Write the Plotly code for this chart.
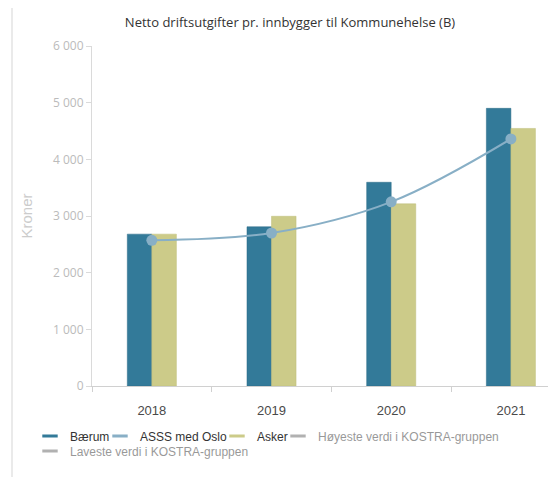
import plotly.graph_objects as go

years = ["2018", "2019", "2020", "2021"]
baerum = [2680, 2810, 3595, 4900]
asss = [2570, 2700, 3250, 4360]
asker = [2680, 2995, 3215, 4545]
y_ticks = [0, 1000, 2000, 3000, 4000, 5000, 6000]
y_tick_labels = ["0", "1 000", "2 000", "3 000", "4 000", "5 000", "6 000"]

c_baerum = "#337a99"
c_asss = "#88afc6"
c_asker = "#cccb89"
c_gray = "#666666"

OFF = 8  # page body margin
W, H = 559 - OFF, 477 - OFF
L, R, T = 92 - OFF, 11, 46 - OFF
B = H - (386 - OFF)
pw = W - L - R
ph = H - T - B


def px_x(px):
    return (px - OFF - L) / pw


def px_y(py):
    return (T + ph - (py - OFF)) / ph


fig = go.Figure()
fig.add_trace(go.Bar(x=years, y=baerum, name="Bærum", marker_color=c_baerum,
                     marker_line=dict(color="#2a6a87", width=0.5), showlegend=False))
fig.add_trace(go.Bar(x=years, y=asker, name="Asker", marker_color=c_asker,
                     marker_line=dict(color="#bdbc79", width=0.5), showlegend=False))
fig.add_trace(go.Scatter(x=years, y=asss, name="ASSS med Oslo", mode="lines+markers",
                         line=dict(color=c_asss, width=2, shape="spline"),
                         marker=dict(size=11, color=c_asss), showlegend=False))

# legend entries: (name, colour, visibility, legend id, text-start px, row y px)
legend_items = [
    ("Bærum", c_baerum, True, "legend", 70, 436),
    ("ASSS med Oslo", c_asss, True, "legend2", 140, 436),
    ("Asker", c_asker, True, "legend3", 257, 436),
    ("Høyeste verdi i KOSTRA-gruppen", c_gray, "legendonly", "legend4", 318, 436),
    ("Laveste verdi i KOSTRA-gruppen", c_gray, "legendonly", "legend5", 70, 451),
]
legend_layout = {}
for name, col, vis, lid, tx, ty in legend_items:
    fig.add_trace(go.Scatter(x=[None], y=[None], mode="markers", name=name,
                             marker=dict(symbol="line-ew", size=11, color=col,
                                         line=dict(color=col, width=3)),
                             visible=vis, legend=lid))
    legend_layout[lid] = dict(
        orientation="h", x=px_x(tx - 40), xanchor="left",
        y=px_y(ty), yanchor="middle", itemwidth=30,
        font=dict(family="Liberation Sans, Arial", size=12, color="#333333"),
        bgcolor="rgba(0,0,0,0)", borderwidth=0)

fig.update_layout(
    width=W, height=H,
    margin=dict(l=L, r=R, t=T, b=B, autoexpand=False),
    paper_bgcolor="white", plot_bgcolor="white",
    barmode="group", bargap=0.59, bargroupgap=0,
    title=dict(text="Netto driftsutgifter pr. innbygger til Kommunehelse (B)",
               x=(290 - OFF) / W, xanchor="center", y=1 - (22 - OFF) / H, yanchor="middle",
               font=dict(family="Open Sans", size=13, color="#333333")),
    font=dict(family="Liberation Sans, Arial", color="#333333"),
    xaxis=dict(type="category", range=[-0.5, 3.31], showline=True, linecolor="#d0d0d0",
               linewidth=1, ticks="outside", tickson="boundaries", ticklen=5,
               tickcolor="#d0d0d0", showgrid=False, ticklabelstandoff=12,
               tickfont=dict(family="Liberation Sans, Arial", size=13, color="#4a4a4a"),
               fixedrange=True),
    yaxis=dict(range=[0, 6000], tickvals=y_ticks, ticktext=y_tick_labels,
               showline=True, linecolor="#dadada", linewidth=1, ticks="outside",
               ticklen=5, tickcolor="#dadada", showgrid=False, zeroline=False,
               tickfont=dict(family="Open Sans", size=12, color="#bbbbbb"),
               title=dict(text="Kroner", standoff=16,
                          font=dict(family="Liberation Sans, Arial", size=15, color="#cccccc"))),
    shapes=[dict(type="line", xref="paper", yref="paper",
                 x0=px_x(12), x1=px_x(12), y0=px_y(477), y1=px_y(8),
                 line=dict(color="#e3e3e3", width=1.5))],
    **legend_layout,
)

fig.write_html("out.html")
